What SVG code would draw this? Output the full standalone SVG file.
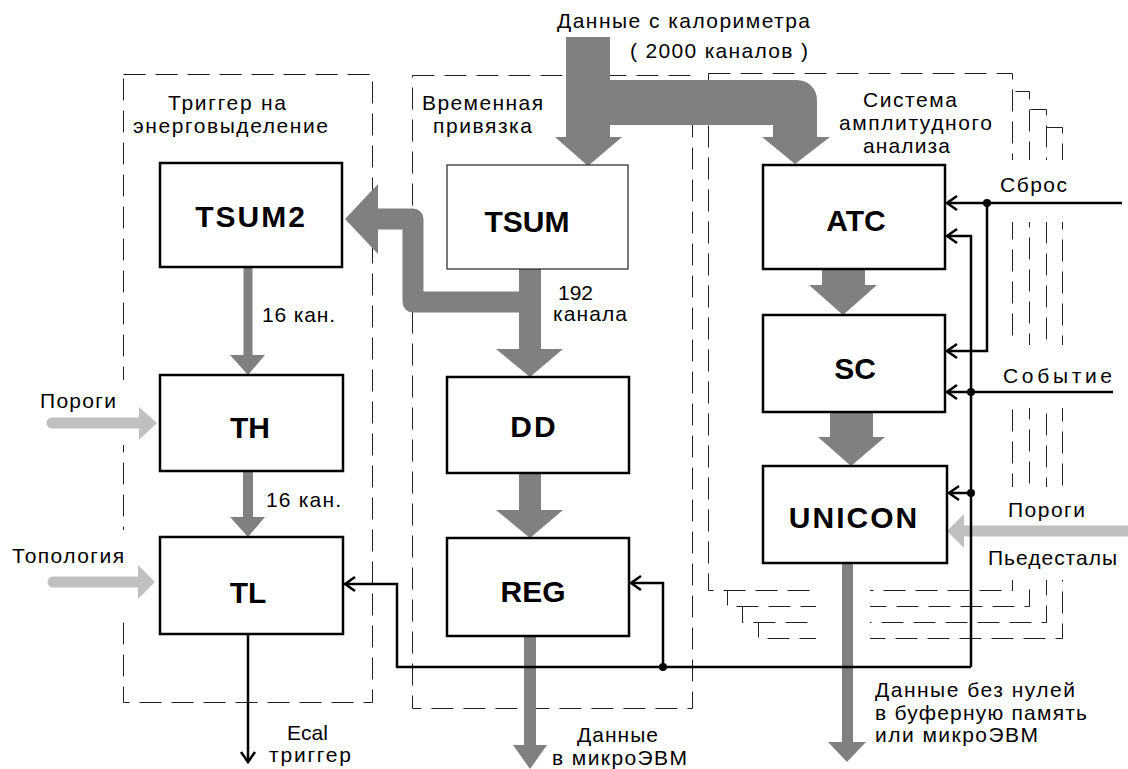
<svg xmlns="http://www.w3.org/2000/svg" width="1128" height="769" viewBox="0 0 1128 769">
<defs>
<style>
.dash{fill:none;stroke:#222;stroke-width:1;stroke-dasharray:22 10}
.dashw{fill:#fff;stroke:#222;stroke-width:1;stroke-dasharray:22 10}
.box{fill:#fff;stroke:#000;stroke-width:2.5}
.thin{fill:#fff;stroke:#222;stroke-width:1.2}
.nl{font-family:"Liberation Sans",Arial,sans-serif;font-weight:bold;font-size:30px;text-anchor:middle;fill:#000}
.lb{font-family:"Liberation Sans",Arial,sans-serif;font-size:21px;fill:#000}
.g{fill:#808080}
.gs{fill:none;stroke:#808080}
.lg{fill:#c0c0c0}
.lgs{fill:none;stroke:#c0c0c0;stroke-width:11;stroke-linecap:round}
.wire{fill:none;stroke:#000;stroke-width:2.5}
.wh{fill:#fff}
</style>
<marker id="ah" markerUnits="userSpaceOnUse" markerWidth="14" markerHeight="18" viewBox="0 0 14 18" refX="11" refY="9" orient="auto"><path d="M1,2 L11,9 L1,16" fill="none" stroke="#000" stroke-width="2.5"/></marker>
</defs>

<g id="frames">
<rect class="dashw" x="758.5" y="127.5" width="304" height="511"/>
<rect class="dashw" x="742.5" y="109.5" width="304" height="513"/>
<rect class="dashw" x="727.5" y="91.5" width="302" height="515"/>
<rect class="dashw" x="708.5" y="73.5" width="304" height="517"/>
<rect class="wh" x="1000" y="160" width="70" height="62"/>
<rect class="wh" x="1000" y="345" width="70" height="63"/>
<rect class="wh" x="1000" y="487" width="70" height="93"/>
<rect class="wh" x="816" y="584" width="54" height="62"/>
<rect class="dash" x="123.5" y="74.5" width="249" height="628"/>
<rect class="dash" x="412.5" y="75.5" width="280" height="633"/>
<rect class="wh" x="118" y="380" width="10" height="65"/>
<rect class="wh" x="118" y="530" width="10" height="86"/>
</g>

<g id="connectors">
<path class="g" d="M566,37 H610 V80 H797 A20,20 0 0 1 817,100 V137 H830 L795,164 L762,137 H773 V125 H610 V137 H622 L588,166 L555,137 H566 Z"/>
<polyline class="gs" points="530,302 413,302 413,219 378,219" stroke-width="21" stroke-linejoin="round"/>
<polygon class="g" points="378,184 345,219 378,254"/>
<rect class="g" x="519" y="268" width="22" height="82"/>
<polygon class="g" points="496,349 563,349 530,377"/>
<rect class="g" x="519" y="472" width="22" height="39"/>
<polygon class="g" points="496,510 563,510 530,538"/>
<rect class="g" x="524" y="635" width="12" height="111"/>
<polygon class="g" points="513,745 547,745 530,769"/>
<line class="gs" x1="248" y1="269" x2="248" y2="356" stroke-width="9" stroke-linecap="round"/>
<polygon class="g" points="230,355 265,355 248,375"/>
<rect class="g" x="243" y="470" width="10" height="48"/>
<polygon class="g" points="230,517 265,517 248,537"/>
<rect class="g" x="822" y="268" width="43" height="18"/>
<polygon class="g" points="809,285 877,285 843,315"/>
<rect class="g" x="830" y="411" width="43" height="27"/>
<polygon class="g" points="818,437 885,437 851,466"/>
<rect class="g" x="842" y="562" width="11" height="181"/>
<polygon class="g" points="828,742 866,742 847,762"/>
<line class="lgs" x1="52" y1="423" x2="139" y2="423"/>
<polygon class="lg" points="139,407 157,423 139,440"/>
<line class="lgs" x1="53" y1="582" x2="138" y2="582"/>
<polygon class="lg" points="138,565 155,582 138,599"/>
<line class="lgs" x1="963" y1="531" x2="1135" y2="531" stroke-linecap="butt"/>
<polygon class="lg" points="964,514 947,531 964,548"/>
<path class="wire" d="M1122,203 H947" marker-end="url(#ah)"/>
<path class="wire" d="M987,203 V351 H947" marker-end="url(#ah)"/>
<path class="wire" d="M971,667 V236 H947" marker-end="url(#ah)"/>
<path class="wire" d="M1113,392 H947" marker-end="url(#ah)"/>
<path class="wire" d="M971,493 H949" marker-end="url(#ah)"/>
<path class="wire" d="M971,667 H397 V584 H345" marker-end="url(#ah)"/>
<path class="wire" d="M663,667 V583 H631" marker-end="url(#ah)"/>
<path class="wire" d="M248,634 V762" marker-end="url(#ah)"/>
<circle cx="987" cy="203" r="4"/>
<circle cx="971" cy="392" r="4"/>
<circle cx="971" cy="493" r="4"/>
<circle cx="663" cy="667" r="4"/>
</g>

<g id="node-tsum2"><rect class="box" x="160" y="163" width="182" height="104"/><text class="nl" x="251" y="227" letter-spacing="2">TSUM2</text></g>
<g id="node-th"><rect class="box" x="160" y="375" width="183" height="96"/><text class="nl" x="250" y="438">TH</text></g>
<g id="node-tl"><rect class="box" x="160" y="537" width="183" height="97"/><text class="nl" x="248" y="603">TL</text></g>
<g id="node-tsum"><rect class="thin" x="447" y="165" width="181" height="104"/><text class="nl" x="527" y="232">TSUM</text></g>
<g id="node-dd"><rect class="box" x="447" y="377" width="182" height="96"/><text class="nl" x="534" y="437" letter-spacing="2">DD</text></g>
<g id="node-reg"><rect class="box" x="447" y="538" width="182" height="98"/><text class="nl" x="533" y="602">REG</text></g>
<g id="node-atc"><rect class="box" x="763" y="165" width="182" height="104"/><text class="nl" x="856" y="231">ATC</text></g>
<g id="node-sc"><rect class="box" x="763" y="315" width="182" height="97"/><text class="nl" x="855" y="379">SC</text></g>
<g id="node-unicon"><rect class="box" x="763" y="466" width="184" height="97"/><text class="nl" x="854" y="528" letter-spacing="2">UNICON</text></g>

<g id="labels">
<text class="lb" x="557" y="28" textLength="253" lengthAdjust="spacing">Данные с калориметра</text>
<text class="lb" x="630" y="58" textLength="178" lengthAdjust="spacing">( 2000 каналов )</text>
<text class="lb" x="168" y="110" textLength="118" lengthAdjust="spacing">Триггер на</text>
<text class="lb" x="133" y="133" textLength="195" lengthAdjust="spacing">энерговыделение</text>
<text class="lb" x="422" y="110" textLength="121" lengthAdjust="spacing">Временная</text>
<text class="lb" x="433" y="133" textLength="99" lengthAdjust="spacing">привязка</text>
<text class="lb" x="863" y="107" textLength="94" lengthAdjust="spacing">Система</text>
<text class="lb" x="839" y="130" textLength="153" lengthAdjust="spacing">амплитудного</text>
<text class="lb" x="863" y="153" textLength="87" lengthAdjust="spacing">анализа</text>
<text class="lb" x="1000" y="192" textLength="67" lengthAdjust="spacing">Сброс</text>
<text class="lb" x="1003" y="383" textLength="109" lengthAdjust="spacing">Событие</text>
<text class="lb" x="1008" y="517" textLength="77" lengthAdjust="spacing">Пороги</text>
<text class="lb" x="988" y="565" textLength="129" lengthAdjust="spacing">Пьедесталы</text>
<text class="lb" x="40" y="408" textLength="76" lengthAdjust="spacing">Пороги</text>
<text class="lb" x="12" y="563" textLength="112" lengthAdjust="spacing">Топология</text>
<text class="lb" x="262" y="322" textLength="73" lengthAdjust="spacing">16 кан.</text>
<text class="lb" x="266" y="507" textLength="75" lengthAdjust="spacing">16 кан.</text>
<text class="lb" x="558" y="300" textLength="35" lengthAdjust="spacing">192</text>
<text class="lb" x="553" y="321" textLength="74" lengthAdjust="spacing">канала</text>
<text class="lb" x="287" y="740" textLength="41" lengthAdjust="spacing">Ecal</text>
<text class="lb" x="269" y="762" textLength="82" lengthAdjust="spacing">триггер</text>
<text class="lb" x="577" y="742" textLength="81" lengthAdjust="spacing">Данные</text>
<text class="lb" x="552" y="765" textLength="135" lengthAdjust="spacing">в микроЭВМ</text>
<text class="lb" x="875" y="697" textLength="200" lengthAdjust="spacing">Данные без нулей</text>
<text class="lb" x="875" y="720" textLength="212" lengthAdjust="spacing">в буферную память</text>
<text class="lb" x="875" y="742" textLength="163" lengthAdjust="spacing">или микроЭВМ</text>
</g>
</svg>
